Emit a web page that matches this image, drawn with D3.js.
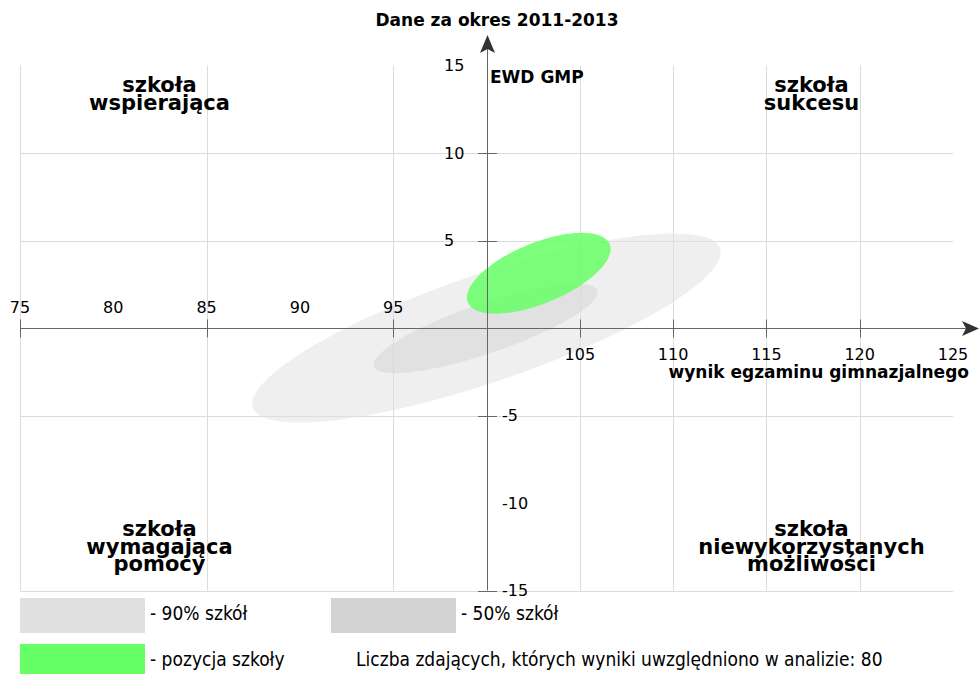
<!DOCTYPE html>
<html>
<head>
<meta charset="utf-8">
<script src="https://cdn.jsdelivr.net/npm/d3@7"></script>
<style>
  body { margin: 0; background: #fff; }
  text { font-family: "DejaVu Sans", sans-serif; fill: #000; }
</style>
</head>
<body>
<div id="chart"></div>
<script>
// dane
const xTickLabels = [75, 80, 85, 90, 95, 105, 110, 115, 120, 125];
const xTickMarks = [75, 85, 95, 105, 110, 115, 120];
const xGrid = [75, 85, 95, 105, 110, 115, 120];
const yTickLabels = [15, 10, 5, -5, -10, -15];
const yTickMarks = [10, 5, -5, -15];
const yGrid = [10, 5, -5, -15];

// elipsy: srodek, rozrzut x, rozrzut y, korelacja
const ellipseNames = ["90% szkół", "50% szkół", "pozycja szkoły"];
const ellipseCx = [100.0, 99.95, 102.8];
const ellipseCy = [0.0, -0.03, 3.13];
const ellipseSx = [12.55, 6.0, 3.85];
const ellipseSy = [5.4, 2.55, 2.31];
const ellipseRho = [0.80, 0.81, 0.60];
const ellipseColors = ["#e0e0e0", "#d3d3d3", "#66ff66"];
const ellipseOpacity = [0.5, 0.5, 0.85];

const quadrants = [
  { lines: ["szkoła", "wspierająca"], side: "left", pos: "top" },
  { lines: ["szkoła", "sukcesu"], side: "right", pos: "top" },
  { lines: ["szkoła", "wymagająca", "pomocy"], side: "left", pos: "bottom" },
  { lines: ["szkoła", "niewykorzystanych", "możliwości"], side: "right", pos: "bottom" }
];

const svg = d3.select("#chart")
    .append("svg")
    .attr("width", 979)
    .attr("height", 674);

const x = d3.scaleLinear().domain([75, 125]).range([20, 953]);
const y = d3.scaleLinear().domain([-15, 15]).range([590.5, 65.5]);

// siatka
svg.append("g").selectAll("line")
    .data(xGrid)
    .enter()
    .append("line")
    .attr("x1", d => Math.round(x(d)) + 0.5)
    .attr("x2", d => Math.round(x(d)) + 0.5)
    .attr("y1", y(15))
    .attr("y2", y(-15))
    .attr("stroke", "#dcdcdc")
    .attr("stroke-width", 1);

svg.append("g").selectAll("line")
    .data(yGrid)
    .enter()
    .append("line")
    .attr("x1", x(75))
    .attr("x2", x(125))
    .attr("y1", d => Math.round(y(d)) + 0.5)
    .attr("y2", d => Math.round(y(d)) + 0.5)
    .attr("stroke", "#dcdcdc")
    .attr("stroke-width", 1);

// elipsy
const ellipsePath = i => {
  const pts = d3.range(0, 361, 3).map(a => {
    const t = a * Math.PI / 180;
    const phi = Math.acos(ellipseRho[i]);
    return [x(ellipseCx[i] + ellipseSx[i] * Math.cos(t)),
            y(ellipseCy[i] + ellipseSy[i] * Math.cos(t - phi))];
  });
  return d3.line().curve(d3.curveLinearClosed)(pts);
};

svg.append("g").selectAll("path")
    .data(ellipseNames)
    .enter()
    .append("path")
    .attr("d", (d, i) => ellipsePath(i))
    .attr("fill", (d, i) => ellipseColors[i])
    .attr("fill-opacity", (d, i) => ellipseOpacity[i]);

// osie
const axisColor = "#666";
const x0 = Math.round(x(100)) + 0.5;
const y0 = Math.round(y(0)) + 0.5;

svg.append("line")
    .attr("x1", x(75)).attr("x2", 968)
    .attr("y1", y0).attr("y2", y0)
    .attr("stroke", axisColor);
svg.append("path")
    .attr("d", `M979,${y0} L962,${y0 - 7.5} L966,${y0} L962,${y0 + 7.5} Z`)
    .attr("fill", "#333");

svg.append("line")
    .attr("x1", x0).attr("x2", x0)
    .attr("y1", y(-15)).attr("y2", 46)
    .attr("stroke", axisColor);
svg.append("path")
    .attr("d", `M${x0},35 L${x0 - 7.5},53 L${x0},49 L${x0 + 7.5},53 Z`)
    .attr("fill", "#333");

svg.append("g").selectAll("line")
    .data(xTickMarks)
    .enter()
    .append("line")
    .attr("x1", d => Math.round(x(d)) + 0.5)
    .attr("x2", d => Math.round(x(d)) + 0.5)
    .attr("y1", y0 - 9)
    .attr("y2", y0 + 9)
    .attr("stroke", axisColor);

svg.append("g").selectAll("line")
    .data(yTickMarks)
    .enter()
    .append("line")
    .attr("x1", x0 - 9.5)
    .attr("x2", x0 + 9.5)
    .attr("y1", d => Math.round(y(d)) + 0.5)
    .attr("y2", d => Math.round(y(d)) + 0.5)
    .attr("stroke", axisColor);

svg.append("g").selectAll("text")
    .data(xTickLabels)
    .enter()
    .append("text")
    .attr("x", d => x(d))
    .attr("y", d => d < 100 ? 313 : 360)
    .attr("text-anchor", "middle")
    .style("font-size", "16px")
    .text(d => d);

svg.append("g").selectAll("text")
    .data(yTickLabels)
    .enter()
    .append("text")
    .attr("x", d => d > 0 ? 444 : 502)
    .attr("y", d => y(d) + 5.5)
    .style("font-size", "16px")
    .text(d => d);

// napisy
svg.append("text")
    .attr("x", 497)
    .attr("y", 26)
    .attr("text-anchor", "middle")
    .style("font-size", "17px")
    .style("font-weight", "bold")
    .text("Dane za okres 2011-2013");

svg.append("text")
    .attr("x", 490)
    .attr("y", 83)
    .style("font-size", "17px")
    .style("font-weight", "bold")
    .text("EWD GMP");

svg.append("text")
    .attr("x", 969)
    .attr("y", 378)
    .attr("text-anchor", "end")
    .style("font-size", "17px")
    .style("font-weight", "bold")
    .text("wynik egzaminu gimnazjalnego");

quadrants.forEach(q => {
  const t = svg.append("text")
      .attr("text-anchor", "middle")
      .style("font-size", "21px")
      .style("font-weight", "bold");
  const top = q.pos === "top" ? 92 : 536;
  q.lines.forEach((line, i) => {
    t.append("tspan")
        .attr("x", q.side === "left" ? 159.5 : 811.5)
        .attr("y", top + i * 17.5)
        .text(line);
  });
});

// legenda
const legend = svg.append("g");
const legendX = [20, 331, 20];
const legendY = [598, 598, 644];
ellipseNames.forEach((name, i) => {
  legend.append("rect")
      .attr("x", legendX[i])
      .attr("y", legendY[i])
      .attr("width", 125)
      .attr("height", 35)
      .attr("fill", ellipseColors[i]);
  legend.append("text")
      .attr("x", legendX[i] + 130)
      .attr("y", legendY[i] + 22)
      .style("font-family", "'DejaVu Sans Condensed', 'DejaVu Sans', sans-serif")
      .style("font-size", "19px")
      .text("- " + name);
});

legend.append("text")
    .attr("x", 356)
    .attr("y", 666)
    .style("font-family", "'DejaVu Sans Condensed', 'DejaVu Sans', sans-serif")
    .style("font-size", "19px")
    .text("Liczba zdających, których wyniki uwzględniono w analizie: 80");
</script>
</body>
</html>
